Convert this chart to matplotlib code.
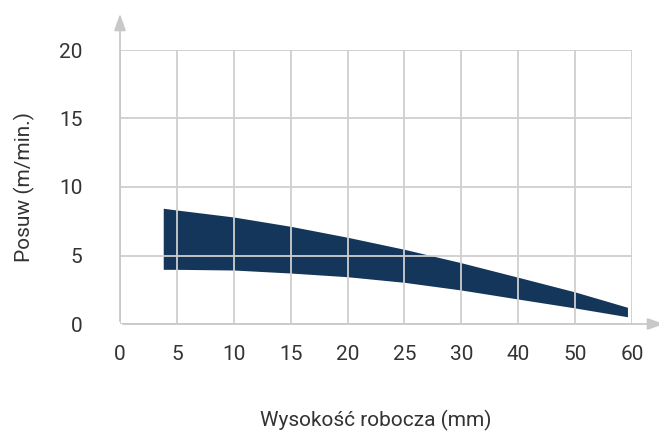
import numpy as np
import matplotlib.pyplot as plt
from matplotlib.patches import FancyArrowPatch

plt.rcParams['font.family'] = ['Roboto', 'DejaVu Sans']

# tick labels on the x axis (evenly spaced, non-linear values)
x_ticks = [0, 5, 10, 15, 20, 25, 30, 40, 50, 60]
y_ticks = [0, 5, 10, 15, 20]

# band (feed range)
band_x = [3.8, 5, 10, 15, 20, 25, 30, 40, 50, 59.2]
band_hi = [8.45, 8.32, 7.81, 7.13, 6.33, 5.45, 4.47, 3.41, 2.34, 1.22]
band_lo = [3.99, 3.99, 3.94, 3.72, 3.45, 3.04, 2.48, 1.82, 1.17, 0.53]

grid_c = '#cfcfcf'
text_c = '#333333'
fill_c = '#14365a'

fig = plt.figure(figsize=(6.59, 4.34), dpi=100)
ax = fig.add_axes([120 / 659, 110 / 434, 512 / 659, 274 / 434])

pos = np.arange(len(x_ticks))
# map real x values onto the evenly spaced category positions
bx = np.interp(band_x, x_ticks, pos)

ax.fill_between(bx, band_lo, band_hi, color=fill_c, lw=0, zorder=2)

ax.set_xlim(0, len(x_ticks) - 1)
ax.set_ylim(0, 20)
ax.set_xticks(pos)
ax.set_xticklabels([str(v) for v in x_ticks])
ax.set_yticks(y_ticks)
ax.grid(True, color=grid_c, lw=1.3, zorder=3)
ax.set_axisbelow(False)

for s in ax.spines.values():
    s.set_visible(False)

ax.tick_params(length=0, labelsize=15, colors=text_c)
ax.tick_params(axis='x', pad=15)
ax.tick_params(axis='y', pad=27)

ax.set_xlabel('Wysokość robocza (mm)', fontsize=15, color=text_c, labelpad=33)
ax.set_ylabel('Posuw (m/min.)', fontsize=15, color=text_c, labelpad=17)

# axis lines with arrow heads
fig.add_artist(FancyArrowPatch((120 / 659, 110 / 434), (120 / 659, 1 - 11 / 434),
                               transform=fig.transFigure, arrowstyle='-|>,head_length=10,head_width=3.5',
                               color='#c8c8c8', lw=1.3, mutation_scale=1))
fig.add_artist(FancyArrowPatch((120 / 659, 110 / 434), (667 / 659, 110 / 434),
                               transform=fig.transFigure, arrowstyle='-|>,head_length=10,head_width=3.5',
                               color='#c8c8c8', lw=1.3, mutation_scale=1))

fig.savefig('out.png', dpi=100)
